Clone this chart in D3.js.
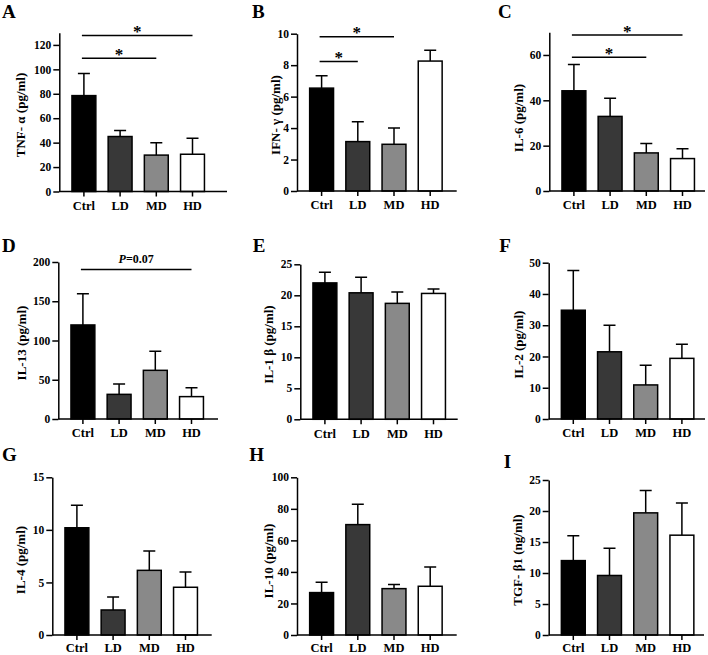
<!DOCTYPE html>
<html>
<head>
<meta charset="utf-8">
<title>Cytokine levels</title>
<script src="https://d3js.org/d3.v7.min.js"></script>
<style>
  body { margin: 0; background: #fff; }
  svg text { font-family: "Liberation Serif", "Times New Roman", serif; font-weight: bold; fill: #000; }
</style>
</head>
<body>
<div id="chart"></div>
<script>
// groups and their bar colours
const groups = ["Ctrl", "LD", "MD", "HD"];
const groupFill = ["#000000", "#383838", "#898989", "#ffffff"];

// panel letters and y axis titles
const letters = ["A", "B", "C", "D", "E", "F", "G", "H", "I"];
const titles = ["TNF- α (pg/ml)", "IFN- γ (pg/ml)", "IL-6 (pg/ml)",
                "IL-13 (pg/ml)", "IL-1 β (pg/ml)", "IL-2 (pg/ml)",
                "IL-4 (pg/ml)", "IL-10 (pg/ml)", "TGF- β1 (ng/ml)"];

// means (Ctrl, LD, MD, HD)
const tnfMean   = [78.5, 45.0, 29.8, 30.5];
const ifnMean   = [6.54, 3.14, 2.97, 8.26];
const il6Mean   = [44.2, 32.9, 16.8, 14.3];
const il13Mean  = [119.8, 31.4, 62.0, 28.5];
const il1bMean  = [22.0, 20.4, 18.7, 20.3];
const il2Mean   = [34.8, 21.5, 10.9, 19.4];
const il4Mean   = [10.2, 2.38, 6.15, 4.54];
const il10Mean  = [26.9, 70.0, 29.4, 30.9];
const tgfMean   = [12.0, 9.6, 19.7, 16.1];

// upper error (SD)
const tnfSd   = [18.0, 5.0, 10.2, 13.0];
const ifnSd   = [0.78, 1.26, 1.03, 0.68];
const il6Sd   = [11.6, 8.0, 4.2, 4.3];
const il13Sd  = [39.9, 13.2, 24.2, 11.4];
const il1bSd  = [1.7, 2.5, 1.85, 0.7];
const il2Sd   = [12.7, 8.5, 6.3, 4.5];
const il4Sd   = [2.14, 1.24, 1.85, 1.46];
const il10Sd  = [6.5, 12.9, 2.7, 12.2];
const tgfSd   = [4.0, 4.4, 3.6, 5.2];

const means = [tnfMean, ifnMean, il6Mean, il13Mean, il1bMean, il2Mean, il4Mean, il10Mean, tgfMean];
const sds = [tnfSd, ifnSd, il6Sd, il13Sd, il1bSd, il2Sd, il4Sd, il10Sd, tgfSd];

// y axis extents and tick labels
const yMax = [130, 10, 70, 200, 25, 50, 15, 100, 25];
const yTicks = [
  [0, 20, 40, 60, 80, 100, 120],
  [0, 2, 4, 6, 8, 10],
  [0, 20, 40, 60],
  [0, 50, 100, 150, 200],
  [0, 5, 10, 15, 20, 25],
  [0, 10, 20, 30, 40, 50],
  [0, 5, 10, 15],
  [0, 20, 40, 60, 80, 100],
  [0, 5, 10, 15, 20, 25]
];

// significance brackets: panel, from group, to group, level, label
const sigPanel = [0, 0, 1, 1, 2, 2, 3];
const sigFrom  = ["Ctrl", "Ctrl", "Ctrl", "Ctrl", "Ctrl", "Ctrl", "Ctrl"];
const sigTo    = ["MD", "HD", "LD", "MD", "MD", "HD", "HD"];
const sigLevel = [109, 127.7, 8.24, 9.8, 59, 68.8, 190.3];
const sigLabel = ["*", "*", "*", "*", "*", "*", "P=0.07"];

// panel geometry (pixels)
const layout = [
  { x0: 59.3,  x1: 227,   top: 32.7,  base: 191.5, tx: 20.7,  ty: 115,   lx: 2,     ly: 17.5 },
  { x0: 297,   x1: 456.7, top: 33.7,  base: 191,   tx: 275.3, ty: 115,   lx: 252,   ly: 17.5 },
  { x0: 549.3, x1: 705,   top: 32.3,  base: 191,   tx: 518.7, ty: 118,   lx: 498,   ly: 17.5 },
  { x0: 58.3,  x1: 218,   top: 262,   base: 419,   tx: 21.7,  ty: 343,   lx: 2,     ly: 252 },
  { x0: 300.3, x1: 457.7, top: 264.3, base: 419.3, tx: 268.3, ty: 344.5, lx: 252.7, ly: 252.3 },
  { x0: 548.7, x1: 705,   top: 262.7, base: 419,   tx: 518.7, ty: 344.7, lx: 499.3, ly: 252 },
  { x0: 52.3,  x1: 211.7, top: 477.3, base: 635,   tx: 20.7,  ty: 560,   lx: 2,     ly: 461 },
  { x0: 297,   x1: 456.7, top: 477.3, base: 635,   tx: 268.3, ty: 561,   lx: 249.3, ly: 461 },
  { x0: 548.7, x1: 704,   top: 480,   base: 635,   tx: 517.7, ty: 560,   lx: 503.7, ly: 468 }
];

const width = 708;
const height = 655;
const step = 36.2;
const lw = 1.5;

const svg = d3.select("#chart")
  .append("svg")
  .attr("width", width)
  .attr("height", height);

const xScales = [];
const yScales = [];

layout.forEach((L, i) => {
  const g = svg.append("g");

  const y = d3.scaleLinear().domain([0, yMax[i]]).range([L.base, L.top]);
  const x = d3.scaleBand()
    .domain(groups)
    .range([L.x0 + 6.5, L.x0 + 6.5 + 4 * step])
    .paddingInner(0.34)
    .paddingOuter(0.17);
  xScales.push(x);
  yScales.push(y);

  const cx = d => x(d) + x.bandwidth() / 2;

  // error bars (upper only)
  const eb = g.append("g").attr("stroke", "#000").attr("stroke-width", lw).attr("fill", "none");
  eb.selectAll("path")
    .data(groups)
    .join("path")
    .attr("d", (d, j) => {
      const yt = y(means[i][j] + sds[i][j]);
      return `M${cx(d)},${y(means[i][j])}V${yt}M${cx(d) - 6},${yt}H${cx(d) + 6}`;
    });

  // bars
  g.selectAll("rect")
    .data(groups)
    .join("rect")
    .attr("x", d => x(d))
    .attr("y", (d, j) => y(means[i][j]))
    .attr("width", x.bandwidth())
    .attr("height", (d, j) => y(0) - y(means[i][j]))
    .attr("fill", (d, j) => groupFill[j])
    .attr("stroke", "#000")
    .attr("stroke-width", lw);

  // y axis
  const ya = g.append("g")
    .attr("transform", `translate(${L.x0},0)`)
    .call(d3.axisLeft(y).tickValues(yTicks[i]).tickSize(6).tickSizeOuter(0).tickPadding(2));
  ya.selectAll("path, line").attr("stroke-width", lw);
  ya.selectAll("text").style("font-size", "11.5px");

  // x axis (bottom row sits against the page edge, so its labels ride a little higher)
  const xa = g.append("g")
    .attr("transform", `translate(0,${L.base})`)
    .call(d3.axisBottom(x).tickSize(5).tickSizeOuter(0).tickPadding(L.base > 600 ? 3 : 4.5));
  xa.select(".domain").attr("d", `M${L.x0},0H${L.x1}`);
  xa.selectAll("path, line").attr("stroke-width", lw);
  xa.selectAll("text").style("font-size", "12.5px");

  // y title
  svg.append("text")
    .attr("transform", `translate(${L.tx},${L.ty}) rotate(-90)`)
    .attr("text-anchor", "middle")
    .attr("dy", "0.35em")
    .style("font-size", "13px")
    .text(titles[i]);

  // panel letter
  svg.append("text")
    .attr("x", L.lx)
    .attr("y", L.ly)
    .style("font-size", "19px")
    .text(letters[i]);
});

// significance brackets
sigPanel.forEach((p, k) => {
  const x = xScales[p];
  const y = yScales[p];
  const xa = x(sigFrom[k]) + x.bandwidth() / 2 - 2;
  const xb = x(sigTo[k]) + x.bandwidth() / 2;
  const yy = y(sigLevel[k]);
  svg.append("line")
    .attr("x1", xa).attr("x2", xb)
    .attr("y1", yy).attr("y2", yy)
    .attr("stroke", "#000")
    .attr("stroke-width", lw);

  const t = svg.append("text")
    .attr("x", (xa + xb) / 2)
    .attr("text-anchor", "middle");
  if (sigLabel[k] === "*") {
    t.attr("y", yy + 1.5).style("font-size", "17px").text("*");
  } else {
    t.attr("y", yy - 7).style("font-size", "12px");
    t.append("tspan").style("font-style", "italic").text(sigLabel[k].slice(0, 1));
    t.append("tspan").text(sigLabel[k].slice(1));
  }
});
</script>
</body>
</html>
